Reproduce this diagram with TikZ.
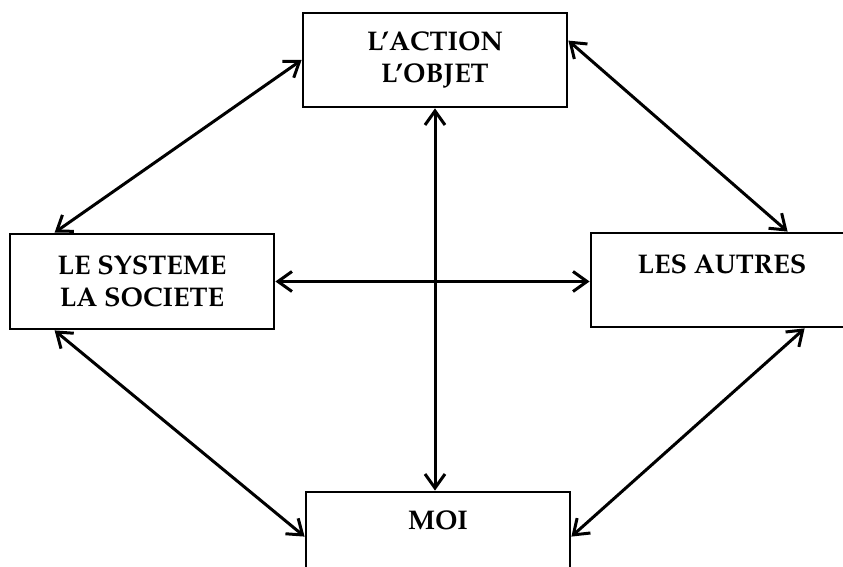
\documentclass[tikz,border=0pt]{standalone}
\usepackage[T1]{fontenc}
\usepackage{mathpazo}
\usepackage{tikz}
\usetikzlibrary{positioning}
\usetikzlibrary{arrows.meta}
\usetikzlibrary{calc}
\tikzset{box node/.style={rectangle,draw,line width=1.4pt,align=center,inner sep=0pt,
    minimum width=132pt,minimum height=47pt,font=\fontsize{13.5}{16}\selectfont\bfseries},}

\begin{document}
\begin{tikzpicture}[x=0.5pt,y=-0.5pt,>={Straight Barb[length=7pt,width=10pt]}]
	\useasboundingbox (0,0) rectangle (843,567);
	\node[box node] (act) at (435,60) {L'ACTION\\L'OBJET};
	\node[box node, minimum height=47.5pt] (sys) at (142,281.5) {LE SYSTEME\\LA SOCIETE};
	\node[box node, minimum width=131pt] (aut) at (722,280) {LES AUTRES\\~};
	\node[box node, minimum height=60pt] (moi) at (438,552) {MOI\\~\\~};

	\path[every edge/.style={draw,<->,line width=1.5pt}]
	(act.west) edge ($(sys.north west)+(46,0)$)
	($(act.north east)+(0,29)$) edge ($(aut.north west)+(198,0)$)
	($(sys.south west)+(46,0)$) edge ($(moi.north west)+(0,46)$)
	($(aut.south west)+(215,0)$) edge ($(moi.north east)+(0,46)$)
	(act.south) edge (act.south |- moi.north)
	(sys.east) edge (sys.east -| aut.west);
\end{tikzpicture}
\end{document}
